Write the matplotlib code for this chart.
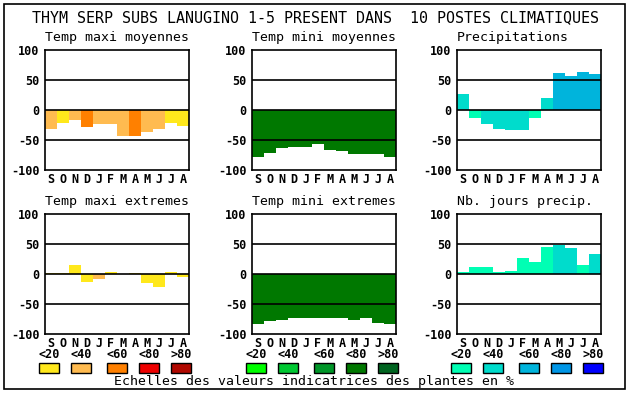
import numpy as np
import matplotlib
matplotlib.use("Agg")
import matplotlib.pyplot as plt
from matplotlib.patches import Rectangle

mois = ['S', 'O', 'N', 'D', 'J', 'F', 'M', 'A', 'M', 'J', 'J', 'A']

# valeurs (echelle -100..100)
tmax_moy = [-32, -22, -17, -28, -23, -24, -43, -44, -36, -31, -21, -26]
tmax_moy_cl = [1, 0, 1, 2, 1, 1, 1, 2, 1, 1, 0, 0]
tmin_moy = [-78, -71, -63, -61, -61, -56, -66, -68, -73, -74, -74, -78]
tmin_moy_cl = [3] * 12
precip = [27, -13, -23, -31, -33, -33, -14, 20, 62, 57, 63, 60]
precip_cl = [1, 0, 1, 1, 1, 1, 0, 1, 2, 2, 2, 2]
tmax_ext = [2, 2, 15, -13, -8, 3, 0, 2, -15, -21, 3, -5]
tmax_ext_cl = [0, 0, 0, 0, 1, 0, 0, 0, 0, 0, 0, 0]
tmin_ext = [-83, -78, -76, -73, -73, -73, -74, -74, -76, -73, -81, -83]
tmin_ext_cl = [3] * 12
jours = [4, 12, 12, 3, 5, 27, 20, 45, 48, 43, 15, 33]
jours_cl = [0, 0, 0, 0, 0, 0, 0, 0, 1, 1, 0, 1]

classes = ['<20', '<40', '<60', '<80', '>80']
chauds = ['#ffe81c', '#ffbb50', '#ff8000', '#ee0000', '#b00800']
verts = ['#00ff00', '#00c832', '#009628', '#007800', '#006420']
bleus = ['#00ffb4', '#00dccc', '#00b4dc', '#0096e6', '#0000ff']

W, H = 630, 394
fig = plt.figure(figsize=(W / 100, H / 100), dpi=100)
fig.patch.set_facecolor('white')

def px(x, y):
    return x / W, 1 - y / H

# cadre exterieur
fig.patches.append(Rectangle(px(4, 389), 621 / W, 385 / H, transform=fig.transFigure,
                             fill=False, edgecolor='black', linewidth=1.2))

fig.text(*px(315, 18), 'THYM SERP SUBS LANUGINO 1-5 PRESENT DANS  10 POSTES CLIMATIQUES',
         family='DejaVu Sans Mono', fontsize=10.8, ha='center', va='center')

panneaux = [
    ('Temp maxi moyennes', tmax_moy, tmax_moy_cl, chauds, 45, 50),
    ('Temp mini moyennes', tmin_moy, tmin_moy_cl, verts, 252, 50),
    ('Precipitations', precip, precip_cl, bleus, 457, 50),
    ('Temp maxi extremes', tmax_ext, tmax_ext_cl, chauds, 45, 214),
    ('Temp mini extremes', tmin_ext, tmin_ext_cl, verts, 252, 214),
    ('Nb. jours precip.', jours, jours_cl, bleus, 457, 214),
]

for titre, vals, cl, pal, x0, y0 in panneaux:
    l, b = px(x0, y0 + 120)
    ax = fig.add_axes([l, b, 144 / W, 120 / H])
    x = np.arange(12) + 0.5
    ax.bar(x, vals, width=1.0, color=[pal[c] for c in cl], linewidth=0, zorder=2)
    for yy in (50, 0, -50):
        ax.axhline(yy, color='black', linewidth=1.2, zorder=3)
    ax.set_xlim(0, 12)
    ax.set_ylim(-100, 100)
    ax.set_yticks([100, 50, 0, -50, -100])
    ax.set_yticklabels(['100', '50', '0', '-50', '-100'], family='DejaVu Sans Mono',
                       fontsize=8.5, fontweight='bold')
    ax.set_xticks(x)
    ax.set_xticklabels(mois, family='DejaVu Sans Mono', fontsize=8.5, fontweight='bold')
    ax.tick_params(axis='y', length=0, pad=4)
    ax.tick_params(axis='x', length=0, pad=2)
    for s in ax.spines.values():
        s.set_linewidth(1.2)
        s.set_zorder(4)
    fig.text(*px(x0, y0 - 12), titre, family='DejaVu Sans Mono', fontsize=9.5,
             ha='left', va='center')

# legendes des classes
decal = [-6, 26, 62, 94, 126]
for x0, pal in ((45, chauds), (252, verts), (457, bleus)):
    for d, c, lab in zip(decal, pal, classes):
        fig.patches.append(Rectangle(px(x0 + d, 373), 20 / W, 10 / H,
                                     transform=fig.transFigure, facecolor=c,
                                     edgecolor='black', linewidth=1))
        fig.text(*px(x0 + d + 10, 355), lab, family='DejaVu Sans Mono', fontsize=8.5,
                 fontweight='bold', ha='center', va='center')

fig.text(*px(314, 382), 'Echelles des valeurs indicatrices des plantes en %',
         family='DejaVu Sans Mono', fontsize=9.5, ha='center', va='center')

fig.savefig('out.png', dpi=100)
